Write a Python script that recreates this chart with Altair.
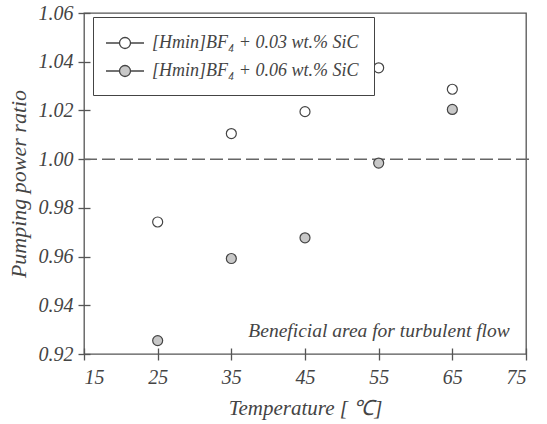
import altair as alt
import pandas as pd

temps = [25, 35, 45, 55, 65]
ratio_003 = [0.9742, 1.0105, 1.0195, 1.0375, 1.0287]
ratio_006 = [0.9255, 0.9592, 0.9677, 0.9984, 1.0204]
series_names = ["[Hmin]BF₄ + 0.03 wt.% SiC", "[Hmin]BF₄ + 0.06 wt.% SiC"]
x_ticks = [15, 25, 35, 45, 55, 65, 75]
y_ticks = [0.92, 0.94, 0.96, 0.98, 1.00, 1.02, 1.04, 1.06]
ref_value = 1.0
note_text = "Beneficial area for turbulent flow"

rows = []
for t, v in zip(temps, ratio_003):
    rows.append({"T": t, "R": v, "S": series_names[0]})
for t, v in zip(temps, ratio_006):
    rows.append({"T": t, "R": v, "S": series_names[1]})
df = pd.DataFrame(rows)

FONT = "Liberation Serif"
TXT = "#444444"

xscale = alt.Scale(domain=[15, 75], nice=False, zero=False)
yscale = alt.Scale(domain=[0.92, 1.06], nice=False, zero=False)

xaxis = alt.Axis(values=x_ticks, format="d", domain=False, grid=False,
                 offset=-6, tickSize=12, tickColor="#555555", tickWidth=1.3,
                 labelFont=FONT, labelFontSize=20, labelFontStyle="italic",
                 labelColor=TXT, labelPadding=7,
                 title="Temperature [ ℃]", titleFont=FONT, titleFontSize=21,
                 titleFontStyle="italic", titleFontWeight="normal",
                 titleColor=TXT, titlePadding=10)
yaxis = alt.Axis(values=y_ticks, format=".2f", domain=False, grid=False,
                 offset=-6, tickSize=12, tickColor="#555555", tickWidth=1.3,
                 labelFont=FONT, labelFontSize=20, labelFontStyle="italic",
                 labelColor=TXT, labelPadding=5,
                 title="Pumping power ratio", titleFont=FONT, titleFontSize=22,
                 titleFontStyle="italic", titleFontWeight="normal",
                 titleColor=TXT, titlePadding=8)

# legend glyph: short line through a small circle (units of 10 px)
sym_path = ("M-1.3,0L0.05,0M1.15,0L2.5,0"
            "M0.05,0A0.55,0.55 0 1,0 1.15,0A0.55,0.55 0 1,0 0.05,0Z")

points = alt.Chart(df).mark_point(
    filled=True, size=100, stroke="#444444", strokeWidth=1.2,
    opacity=1,
).encode(
    x=alt.X("T:Q", scale=xscale, axis=xaxis),
    y=alt.Y("R:Q", scale=yscale, axis=yaxis),
    fill=alt.Fill("S:N", scale=alt.Scale(domain=series_names,
                                         range=["#ffffff", "#c8c8c8"]),
                  legend=alt.Legend(
                      title=None, orient="none", legendX=9, legendY=4,
                      symbolType=sym_path, symbolSize=400,
                      symbolStrokeColor="#444444", symbolStrokeWidth=1.3,
                      labelFont=FONT, labelFontSize=18, labelFontStyle="italic",
                      labelColor=TXT, labelOffset=22, rowPadding=8,
                      padding=15, strokeColor="#444444", fillColor="#ffffff",
                      labelLimit=400)),
)

ref_df = pd.DataFrame({"x1": [15], "x2": [76], "y": [ref_value]})
ref_line = alt.Chart(ref_df).mark_rule(
    color="#666666", strokeWidth=1.5, strokeDash=[13, 5]
).encode(
    x=alt.X("x1:Q", scale=xscale),
    x2="x2:Q",
    y=alt.Y("y:Q", scale=yscale),
)

note_df = pd.DataFrame({"x": [72.8], "y": [0.9295], "t": [note_text]})
note = alt.Chart(note_df).mark_text(
    align="right", baseline="middle", font=FONT, fontSize=19.5,
    fontStyle="italic", color=TXT,
).encode(
    x=alt.X("x:Q", scale=xscale),
    y=alt.Y("y:Q", scale=yscale),
    text="t:N",
)

chart = alt.layer(ref_line, points, note).properties(
    width=442, height=341,
    autosize=alt.AutoSizeParams(type="none"),
    padding={"left": 84, "top": 13, "right": 21, "bottom": 70},
    background="white",
).configure_view(
    stroke="#555555", strokeWidth=1.3,
)

chart.save("out.html", embed_options={"renderer": "svg", "actions": False})
